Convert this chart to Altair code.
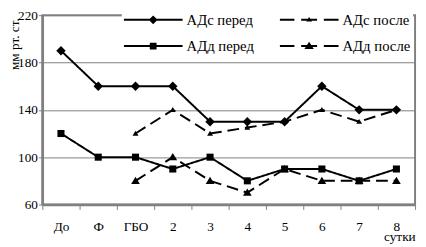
import altair as alt
import pandas as pd

days = ["До", "Ф", "ГБО", "2", "3", "4", "5", "6", "7", "8"]
series = ["АДс перед", "АДс после", "АДд перед", "АДд после"]
ads_before = [190, 160, 160, 160, 130, 130, 130, 160, 140, 140]
ads_after = [None, None, 120, 140, 120, 125, 130, 140, 130, 140]
add_before = [120, 100, 100, 90, 100, 80, 90, 90, 80, 90]
add_after = [None, None, 80, 100, 80, 70, 90, 80, 80, 80]
y_ticks = [60, 100, 140, 180, 220]

rows = []
for name, vals in zip(series, [ads_before, ads_after, add_before, add_after]):
    for d, v in zip(days, vals):
        if v is not None:
            rows.append({"day": d, "value": v, "series": name})
df = pd.DataFrame(rows)

FONT = "Liberation Serif"
GRAY = "#808080"

# marker shapes for the plotted points (unit = 4 px at size 64)
point_paths = [
    "M0,-1.2L1.2,0L0,1.2L-1.2,0Z",
    "M0,-0.7L0.75,0.55L-0.75,0.55Z",
    "M-0.9,-0.9L0.9,-0.9L0.9,0.9L-0.9,0.9Z",
    "M0,-1.05L1.1,0.8L-1.1,0.8Z",
]
# legend symbols: filled line (or dashes) + marker (unit = 30 px at size 3600)
SOLID = "M-1,-0.034L1,-0.034L1,0.034L-1,0.034Z"
DASHED = ("M-1,-0.034L-0.5,-0.034L-0.5,0.034L-1,0.034Z"
          "M-0.27,-0.034L0.27,-0.034L0.27,0.034L-0.27,0.034Z"
          "M0.5,-0.034L1,-0.034L1,0.034L0.5,0.034Z")
legend_paths = [
    SOLID + "M0,-0.15L0.15,0L0,0.15L-0.15,0Z",
    DASHED + "M0,-0.1L0.1,0.06L-0.1,0.06Z",
    SOLID + "M-0.115,-0.115L0.115,-0.115L0.115,0.115L-0.115,0.115Z",
    DASHED + "M0,-0.15L0.16,0.1L-0.16,0.1Z",
]

x_enc = alt.X(
    "day:O",
    sort=days,
    scale=alt.Scale(type="band", domain=days, paddingInner=0, paddingOuter=0),
    axis=alt.Axis(
        tickBand="extent", labelAngle=0, grid=False,
        domainColor=GRAY, domainWidth=2.5, tickColor=GRAY, tickSize=5,
        labelPadding=11, labelFont=FONT, labelFontSize=13.5, labelColor="black",
        title="сутки", titleFont=FONT, titleFontSize=13.5, titleFontWeight="normal",
        titleColor="black", titleX=364, titleY=37, titleAlign="center",
        titleBaseline="alphabetic",
    ),
)
y_enc = alt.Y(
    "value:Q",
    scale=alt.Scale(domain=[60, 220], nice=False, zero=False),
    axis=alt.Axis(
        values=y_ticks, grid=True, gridColor=GRAY, gridWidth=1,
        domainColor=GRAY, domainWidth=2.5, tickColor=GRAY, tickSize=4,
        labelPadding=1, labelFont=FONT, labelFontSize=13.5, labelColor="black",
        title="мм рт. ст.", titleFont=FONT, titleFontSize=13.5, titleFontWeight="normal",
        titleColor="black", titleX=-24, titleY=29, titleAngle=270,
        titleAlign="center", titleBaseline="alphabetic",
    ),
)

base = alt.Chart(df).encode(x=x_enc, y=y_enc)

lines = base.mark_line(color="black", strokeWidth=2).encode(
    detail="series:N",
    strokeDash=alt.StrokeDash(
        "series:N",
        scale=alt.Scale(domain=series, range=[[1, 0], [12, 6], [1, 0], [12, 6]]),
        legend=None,
    ),
)

points = base.mark_point(filled=True, color="black", size=64, opacity=1).encode(
    shape=alt.Shape("series:N", scale=alt.Scale(domain=series, range=point_paths), legend=None)
)

legend_layer = base.mark_point(
    filled=True, color="black", size=3600, opacity=1, strokeWidth=0,
).encode(
    shape=alt.Shape(
        "series:N",
        scale=alt.Scale(domain=series, range=legend_paths),
        legend=alt.Legend(
            title=None, orient="none", legendX=81, legendY=-5, columns=2,
            direction="horizontal", clipHeight=15,
            fillColor="white", padding=2, rowPadding=11, columnPadding=26,
            labelFont=FONT, labelFontSize=15, labelColor="black", labelOffset=4,
            symbolSize=3600, symbolStrokeWidth=0,
            symbolFillColor="black", symbolOpacity=1,
        ),
    )
).transform_filter("false")

chart = (
    alt.layer(lines, points, legend_layer)
    .resolve_scale(shape="independent")
    .properties(
        width=380, height=193, autosize="none",
        padding={"left": 35, "top": 5, "right": 3, "bottom": 41},
    )
    .configure_view(stroke=GRAY, strokeWidth=2)
)

chart.save("out.html", embed_options={"renderer": "svg", "actions": False})
